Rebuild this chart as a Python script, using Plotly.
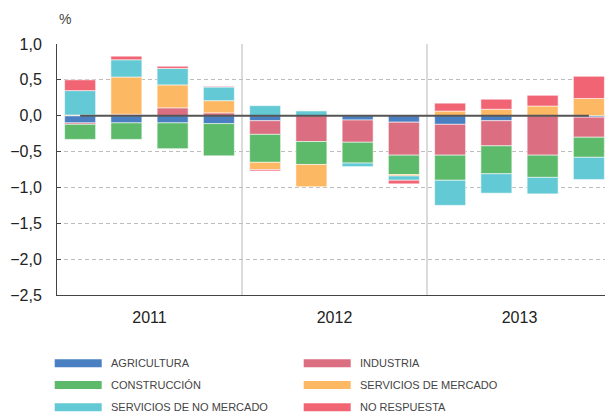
import plotly.graph_objects as go

quarters = ["2011 T1", "2011 T2", "2011 T3", "2011 T4",
            "2012 T1", "2012 T2", "2012 T3", "2012 T4",
            "2013 T1", "2013 T2", "2013 T3", "2013 T4"]
years = ["2011", "2012", "2013"]
year_centers = [1.5, 5.5, 9.5]
year_dividers = [3.5, 7.5]

agricultura = [-0.10, -0.10, -0.10, -0.11, -0.07, 0.0, -0.06, -0.09, -0.12, -0.07, 0.0, -0.02]
industria = [-0.02, 0.02, 0.11, 0.04, -0.19, -0.36, -0.31, -0.46, -0.43, -0.35, -0.55, -0.28]
construccion = [-0.21, -0.23, -0.36, -0.45, -0.39, -0.32, -0.29, -0.27, -0.35, -0.39, -0.31, -0.28]
serv_mercado = [0.01, 0.52, 0.32, 0.17, -0.10, -0.31, 0.01, -0.02, 0.065, 0.09, 0.135, 0.24]
serv_no_mercado = [0.34, 0.24, 0.23, 0.19, 0.14, 0.07, -0.05, -0.06, -0.35, -0.27, -0.23, -0.31]
no_respuesta = [0.15, 0.05, 0.03, 0.01, -0.02, 0.0, 0.0, -0.05, 0.11, 0.14, 0.15, 0.31]

series = [
    ("AGRICULTURA", agricultura, "#4a7fc1"),
    ("INDUSTRIA", industria, "#db6e80"),
    ("CONSTRUCCIÓN", construccion, "#5dba6b"),
    ("SERVICIOS DE MERCADO", serv_mercado, "#fdb864"),
    ("SERVICIOS DE NO MERCADO", serv_no_mercado, "#63c9d5"),
    ("NO RESPUESTA", no_respuesta, "#f06474"),
]

x = list(range(len(quarters)))

# the page body adds an 8px margin; work in page pixels and subtract it
OFF = 8
W, H = 613 - OFF, 416 - OFF
L, R, T, B = 57 - OFF, 612 - OFF, 44 - OFF, 295 - OFF

fig = go.Figure()
for name, vals, col in series:
    fig.add_trace(go.Bar(
        x=x, y=vals, name=name, hovertext=quarters,
        marker=dict(color=col, line=dict(color="rgba(255,255,255,0.55)", width=1)),
        showlegend=False,
    ))

def px_x(p):
    return (p - OFF - L) / (R - L)

def px_y(p):
    return (B - (p - OFF)) / (B - T)

shapes = []
for d in year_dividers:
    shapes.append(dict(type="line", xref="x", yref="y", x0=d, x1=d, y0=-2.5, y1=1.0,
                       line=dict(color="#c4c4c4", width=1.2), layer="above"))
shapes.append(dict(type="line", xref="paper", yref="y", x0=1, x1=1, y0=-2.5, y1=1.0,
                   line=dict(color="#c4c4c4", width=1.2), layer="above"))
shapes.append(dict(type="line", xref="x", yref="y", x0=x[0], x1=x[-1], y0=0, y1=0,
                   line=dict(color="#555555", width=2), layer="above"))

annotations = [dict(text="%", xref="paper", yref="paper", x=px_x(57), y=px_y(18.5),
                    xanchor="left", yanchor="middle", showarrow=False,
                    font=dict(size=14, color="#444444", family="Liberation Sans, Arial, sans-serif"))]

leg_cols = [(54.7, 101.7, 109), (303.7, 350.7, 358)]
leg_rows = [363.3, 385.0, 407.3]
for i, (name, vals, col) in enumerate(series):
    r, c = divmod(i, 2)
    x0, x1, tx = leg_cols[c]
    yc = leg_rows[r]
    shapes.append(dict(type="rect", xref="paper", yref="paper",
                       x0=px_x(x0), x1=px_x(x1), y0=px_y(yc + 4), y1=px_y(yc - 4),
                       fillcolor=col, line=dict(width=0)))
    annotations.append(dict(text=name, xref="paper", yref="paper", x=px_x(tx), y=px_y(yc),
                            xanchor="left", yanchor="middle", showarrow=False,
                            font=dict(size=11, color="#444444",
                                      family="Liberation Sans, Arial, sans-serif")))

fig.update_layout(
    width=W, height=H,
    margin=dict(l=L, r=W - R, t=T, b=H - B, pad=0),
    barmode="relative", bargap=0.33,
    plot_bgcolor="white", paper_bgcolor="white",
    separators=",.",
    shapes=shapes, annotations=annotations,
    font=dict(family="Liberation Sans, Arial, sans-serif", color="#222222", size=16),
)
fig.update_xaxes(
    range=[-0.5, 11.5], tickvals=year_centers, ticktext=years, ticks="",
    showgrid=False, zeroline=False, showline=True, linecolor="#444444", linewidth=1,
    ticklabelstandoff=8, tickfont=dict(size=16, color="#222222"),
)
fig.update_yaxes(
    range=[-2.5, 1.0], dtick=0.5, tick0=0, tickformat=".1f",
    showgrid=True, gridcolor="#bdbdbd", griddash="4px,3px", gridwidth=1,
    zeroline=False, showline=True, linecolor="#444444", linewidth=1,
    ticks="inside", ticklen=4, tickcolor="#444444",
    ticklabelstandoff=11, tickfont=dict(size=16, color="#222222"),
)

fig.write_html("out.html")
